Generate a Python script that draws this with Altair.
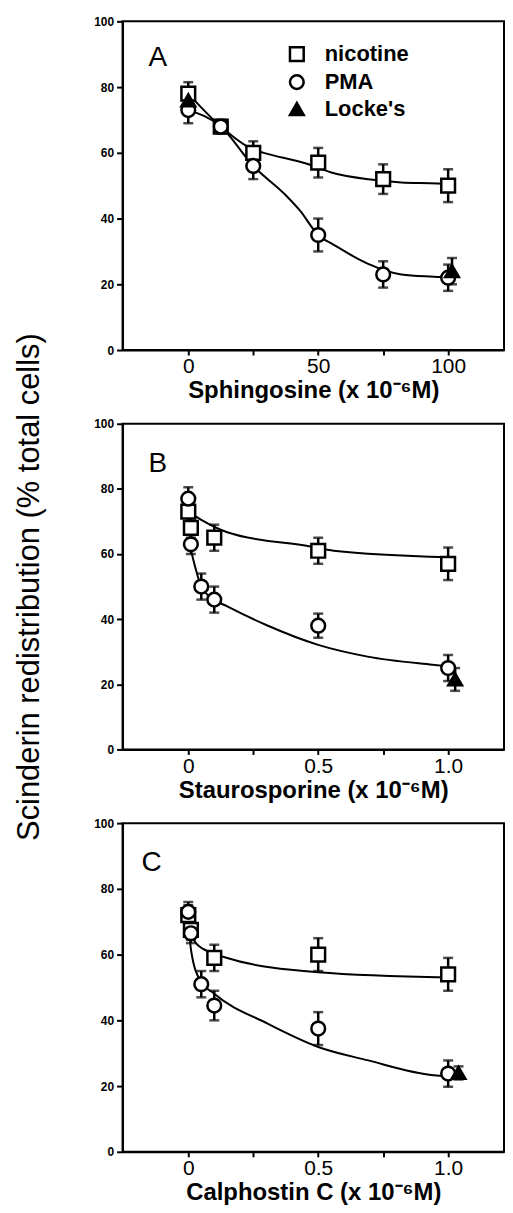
import altair as alt
import pandas as pd

FONT = "Liberation Sans"
SERIES = ["nicotine", "PMA", "Locke's"]

# ---------------- Panel A: Sphingosine (x 10^-6 M) ----------------
A_nic_x = [0, 12.5, 25, 50, 75, 100]
A_nic_y = [78, 68, 60, 57, 52, 50]
A_nic_e = [3.5, 2, 3.5, 4.5, 4.5, 5]
A_pma_x = [0, 12.5, 25, 50, 75, 100]
A_pma_y = [73, 68, 56, 35, 23, 22]
A_pma_e = [4, 2, 4, 5, 4, 4]
A_lk_x = [0, 101.5]
A_lk_y = [76, 24]
A_lk_e = [0, 4]
A_fit_nic_x = [0, 12.5, 25, 29, 46, 55, 71, 82, 96, 100]
A_fit_nic_y = [78, 68, 61, 60, 56.6, 54, 51.8, 51, 50.7, 50.5]
A_fit_pma_x = [0, 12.5, 25, 37, 43, 50, 56, 69, 82, 97, 100]
A_fit_pma_y = [73, 68, 56, 47.5, 42.4, 35, 32, 26.3, 23, 22.2, 22]

# ---------------- Panel B: Staurosporine (x 10^-6 M) ----------------
B_nic_x = [0, 0.01, 0.1, 0.5, 1.0]
B_nic_y = [73, 68, 65, 61, 57]
B_nic_e = [3, 3, 4, 4, 5]
B_pma_x = [0, 0.01, 0.05, 0.1, 0.5, 1.0]
B_pma_y = [77, 63, 50, 46, 38, 25]
B_pma_e = [3.5, 3, 4, 4, 3.7, 4]
B_lk_x = [1.027]
B_lk_y = [21.5]
B_lk_e = [3.5]
B_fit_nic_x = [0, 0.05, 0.15, 0.47, 0.56, 1.0]
B_fit_nic_y = [73, 70.5, 66.7, 62.3, 61, 59]
B_fit_pma_x = [0.005, 0.03, 0.05, 0.1, 0.15, 0.3, 0.5, 0.69, 0.94, 1.0]
B_fit_pma_y = [63, 55, 50, 46, 43.9, 38.2, 32.1, 28.5, 26, 25.5]

# ---------------- Panel C: Calphostin C (x 10^-6 M) ----------------
C_nic_x = [0, 0.01, 0.1, 0.5, 1.0]
C_nic_y = [72, 67.5, 59, 60, 54]
C_nic_e = [3, 3, 4, 5, 5]
C_pma_x = [0, 0.01, 0.05, 0.1, 0.5, 1.0]
C_pma_y = [73, 66.5, 51, 44.5, 37.5, 23.8]
C_pma_e = [3, 3, 4, 4.5, 5, 4]
C_lk_x = [1.04]
C_lk_y = [24]
C_lk_e = [2]
C_fit_nic_x = [0, 0.025, 0.075, 0.14, 0.5, 1.0]
C_fit_nic_y = [70, 64, 61, 59.2, 54.6, 53]
C_fit_pma_x = [0, 0.011, 0.046, 0.1, 0.305, 0.5, 0.688, 0.944, 1.0]
C_fit_pma_y = [70, 61.2, 52.1, 48.1, 39, 31.9, 27.9, 23.3, 23]

Y_TITLE = "Scinderin redistribution (% total cells)"
PLOT_W = 383


def points_df(groups):
    rows = []
    for name, xs, ys, es in groups:
        for x, y, e in zip(xs, ys, es):
            rows.append({"s": name, "x": x, "y": y, "e": e, "lo": y - e, "hi": y + e})
    return pd.DataFrame(rows)


def fit_df(groups):
    rows = []
    for name, xs, ys in groups:
        for i, (x, y) in enumerate(zip(xs, ys)):
            rows.append({"s": name, "x": x, "y": y, "i": i})
    return pd.DataFrame(rows)


def panel(pts, fit, xdom, xvals, xlabelexpr, xtitle, letter, lx, ly, height, legend, ytitle):
    xenc = alt.X("x:Q", scale=alt.Scale(domain=xdom, nice=False, zero=False),
                 axis=alt.Axis(values=xvals, labelExpr=xlabelexpr, title=xtitle,
                               labelFontSize=21, labelFontWeight="normal", labelFont=FONT,
                               titleFont=FONT, titleFontSize=24, titleFontWeight="bold",
                               titlePadding=2, tickSize=5, tickWidth=2, domainWidth=2,
                               labelPadding=1, grid=False, labelFlush=False))
    yaxis = dict(values=[0, 20, 40, 60, 80, 100], labelFontSize=12, labelFontWeight="bold",
                 labelFont=FONT, tickSize=6, tickWidth=2, domainWidth=2, labelPadding=3,
                 grid=False)
    if ytitle:
        yaxis.update(title=ytitle, titleFont=FONT, titleFontSize=31, titleFontWeight="normal",
                     titlePadding=48)
    else:
        yaxis.update(title=None)
    yscale = alt.Scale(domain=[0, 100], nice=False)
    yenc = alt.Y("y:Q", scale=yscale, axis=alt.Axis(**yaxis))

    base_pts = alt.Chart(pts)
    lines = alt.Chart(fit).mark_line(color="black", strokeWidth=2, interpolate="monotone").encode(
        x=xenc, y=yenc, detail="s:N", order="i:Q")
    bars = base_pts.transform_filter("datum.e > 0").mark_rule(color="black", strokeWidth=2.5).encode(
        x=xenc, y=alt.Y("lo:Q", scale=yscale, axis=alt.Axis(**yaxis)), y2="hi:Q")
    caps = base_pts.transform_filter("datum.e > 0").transform_fold(["lo", "hi"], as_=["k", "v"]).mark_tick(
        color="black", orient="horizontal", size=10, thickness=2.5).encode(
        x=xenc, y=alt.Y("v:Q", scale=yscale, axis=alt.Axis(**yaxis)))
    if legend:
        leg = alt.Legend(orient="none", legendX=164, legendY=22, title=None, labelFont=FONT,
                         labelFontSize=22, labelFontWeight="bold", labelColor="black",
                         symbolSize=190, symbolStrokeWidth=2.5, symbolStrokeColor="black",
                         rowPadding=4, labelOffset=17)
    else:
        leg = None
    syms = base_pts.mark_point(filled=True, size=190, strokeWidth=2.5, opacity=1).encode(
        x=xenc, y=yenc,
        shape=alt.Shape("s:N", scale=alt.Scale(domain=SERIES, range=["square", "circle", "triangle-up"]),
                        legend=leg),
        fill=alt.Fill("s:N", scale=alt.Scale(domain=SERIES, range=["white", "white", "black"]),
                      legend=leg),
        stroke=alt.Stroke("s:N", scale=alt.Scale(domain=SERIES, range=["black", "black", "black"]),
                          legend=leg))
    lab = alt.Chart(pd.DataFrame({"t": [letter]})).mark_text(
        font=FONT, fontSize=28, align="left", baseline="middle", color="black").encode(
        text="t:N", x=alt.value(lx), y=alt.value(ly))
    return alt.layer(lines, bars, caps, syms, lab).properties(width=PLOT_W, height=height)


pA = panel(points_df([("nicotine", A_nic_x, A_nic_y, A_nic_e), ("PMA", A_pma_x, A_pma_y, A_pma_e),
                      ("Locke's", A_lk_x, A_lk_y, A_lk_e)]),
           fit_df([("nicotine", A_fit_nic_x, A_fit_nic_y), ("PMA", A_fit_pma_x, A_fit_pma_y)]),
           [-25.3, 121.5], [0, 25, 50, 75, 100],
           "datum.value % 50 == 0 ? datum.label : ''",
           "Sphingosine (x 10⁻⁶M)", "A", 26, 37, 330, True, None)

LBL = "datum.value == 0 ? '0' : datum.value == 0.5 ? '0.5' : datum.value == 1 ? '1.0' : ''"

pB = panel(points_df([("nicotine", B_nic_x, B_nic_y, B_nic_e), ("PMA", B_pma_x, B_pma_y, B_pma_e),
                      ("Locke's", B_lk_x, B_lk_y, B_lk_e)]),
           fit_df([("nicotine", B_fit_nic_x, B_fit_nic_y), ("PMA", B_fit_pma_x, B_fit_pma_y)]),
           [-0.253, 1.215], [0, 0.25, 0.5, 0.75, 1.0], LBL,
           "Staurosporine (x 10⁻⁶M)", "B", 26, 40, 327, False, Y_TITLE)

pC = panel(points_df([("nicotine", C_nic_x, C_nic_y, C_nic_e), ("PMA", C_pma_x, C_pma_y, C_pma_e),
                      ("Locke's", C_lk_x, C_lk_y, C_lk_e)]),
           fit_df([("nicotine", C_fit_nic_x, C_fit_nic_y), ("PMA", C_fit_pma_x, C_fit_pma_y)]),
           [-0.253, 1.215], [0, 0.25, 0.5, 0.75, 1.0], LBL,
           "Calphostin C (x 10⁻⁶M)", "C", 19, 40, 330, False, None)

chart = alt.vconcat(pA, pB, pC, spacing=74, bounds="flush").resolve_legend(
    shape="independent", fill="independent", stroke="independent").properties(
    padding={"left": 4, "top": 4, "right": 0, "bottom": 0}
).configure_view(stroke="black", strokeWidth=2).configure_axis(
    domainColor="black", tickColor="black", labelColor="black", titleColor="black")

chart.save("out.html", embed_options={"renderer": "svg", "actions": False})
